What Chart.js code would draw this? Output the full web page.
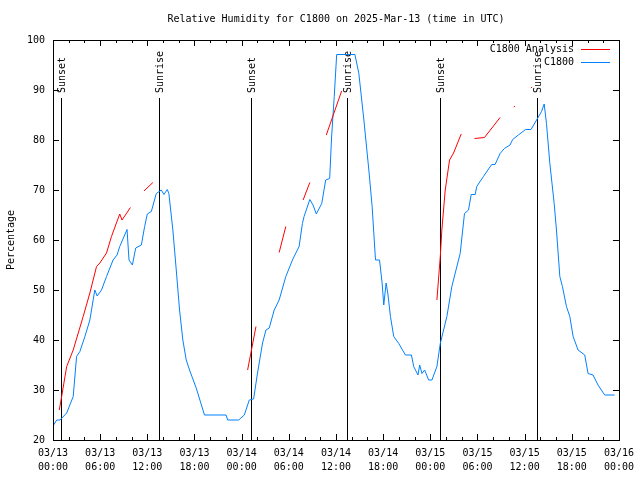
<!DOCTYPE html>
<html><head><meta charset="utf-8">
<script src="https://cdn.jsdelivr.net/npm/chart.js@4.4.1/dist/chart.umd.min.js"></script>
<style>html,body{margin:0;padding:0;background:#fff}#wrap{width:640px;height:480px}</style>
</head><body><div id="wrap"><canvas id="c" width="640" height="480"></canvas></div>
<script>
const titleText = "Relative Humidity for C1800 on 2025-Mar-13 (time in UTC)";
const yAxisLabel = "Percentage";
const seriesNames = ["C1800 Analysis", "C1800"];
const xTickLabels = [
  ["03/13","00:00"],["03/13","06:00"],["03/13","12:00"],["03/13","18:00"],
  ["03/14","00:00"],["03/14","06:00"],["03/14","12:00"],["03/14","18:00"],
  ["03/15","00:00"],["03/15","06:00"],["03/15","12:00"],["03/15","18:00"],
  ["03/16","00:00"]
];
const sunEventHours = [1.05, 13.45, 25.14, 37.43, 49.18, 61.52];
const sunEventLabels = ["Sunset","Sunrise","Sunset","Sunrise","Sunset","Sunrise"];

// hours since 03/13 00:00 UTC
const stationHours = [0,0.47,0.89,1.74,2.57,3.0,3.42,4.06,4.69,5.32,5.62,6.17,6.81,7.64,8.15,8.49,9.42,9.67,10.10,10.52,11.24,11.66,12.0,12.51,13.14,13.78,14.11,14.54,14.74,15.25,15.68,16.10,16.52,16.95,17.37,18.22,19.27,22.02,22.22,23.62,24.34,24.97,25.52,26.02,26.66,27.09,27.51,28.14,28.77,29.62,30.46,31.31,31.73,31.94,32.67,33.08,33.50,34.19,34.69,35.20,35.45,35.78,36.09,37.23,38.41,38.91,39.55,40.18,40.60,41.03,41.54,41.87,42.08,42.38,42.59,42.93,43.35,43.99,44.83,45.60,45.89,46.43,46.65,46.94,47.28,47.79,48.21,48.84,49.27,49.69,50.11,50.74,51.80,52.35,52.86,53.20,53.71,53.91,54.76,55.81,56.24,56.88,57.42,58.14,58.48,59.20,60.12,60.81,61.52,62.15,62.49,62.78,63.21,63.76,64.05,64.48,64.81,65.32,65.75,66.17,66.80,67.65,68.07,68.70,69.34,69.76,70.19,71.45];
const stationValues = [22.8,24.0,24.0,25.4,28.7,36.7,37.7,40.7,44.0,50.0,48.8,50.0,52.7,56.0,57.0,58.7,62.1,56.0,55.0,58.4,59.0,62.7,65.2,65.7,69.3,70.0,69.1,70.1,69.3,62.0,54.0,46.0,40.0,36.0,34.0,30.4,25.0,25.0,24.0,24.0,25.0,28.0,28.2,33.4,39.4,42.0,42.4,46.0,48.0,52.7,56.0,58.7,63.3,64.7,68.1,67.0,65.2,67.3,72.0,72.3,80.8,88.7,97.1,97.1,97.1,93.3,84.0,74.0,66.7,56.0,56.0,51.4,47.0,51.4,49.4,44.7,40.7,39.3,37.0,37.0,34.7,33.0,35.0,33.3,34.0,32.0,32.0,34.7,39.3,42.0,44.7,50.7,57.3,65.3,66.0,69.1,69.1,70.7,72.7,75.1,75.1,77.3,78.3,79.0,80.1,81.0,82.1,82.1,84.0,85.7,87.2,83.3,75.3,67.3,62.0,52.7,50.7,46.7,44.7,40.7,38.0,37.0,33.3,33.0,31.0,30.0,29.0,29.0];

// null = gap in analysis
const analysisHours = [0.80,1.10,1.74,2.57,3.84,4.69,5.54,5.96,6.81,7.44,8.49,8.78,9.85,10.7,11.57,12.71,18.0,24.76,25.82,27.0,28.77,29.62,30.7,31.82,32.67,33.7,34.77,36.72,42.0,48.84,49.27,49.47,49.90,50.45,50.96,51.93,52.8,53.62,54.89,56.88,57.8,58.62,58.78,59.8,60.80,60.96];
const analysisValues = [26.0,28.7,34.7,38.0,44.7,49.4,54.7,55.4,57.4,60.7,65.2,64.0,66.5,null,69.8,71.5,null,34.0,42.7,null,57.5,62.7,null,68.0,71.5,null,81.0,89.8,null,48.0,56.7,62.0,70.0,76.0,77.4,81.2,null,80.3,80.5,84.5,null,86.6,86.8,null,90.4,90.6];

const FONT = '"DejaVu Sans Mono", "Liberation Mono", monospace';
const RED = '#ff0000', BLUE = '#0080ff';

const toPoints = (xs, ys) => xs.map((x, i) => ({x: x, y: ys[i]}));

const decor = {
  id: 'decor',
  beforeDatasetsDraw(chart) {
    const ctx = chart.ctx, xs = chart.scales.x, a = chart.chartArea;
    ctx.save();
    ctx.strokeStyle = '#000'; ctx.lineWidth = 1;
    ctx.fillStyle = '#000';
    ctx.font = '10px ' + FONT;
    sunEventHours.forEach((h, i) => {
      const px = Math.round(xs.getPixelForValue(h)) + 0.5;
      ctx.beginPath(); ctx.moveTo(px, 98); ctx.lineTo(px, a.bottom); ctx.stroke();
      ctx.save();
      ctx.translate(px + 1, 93);
      ctx.rotate(-Math.PI / 2);
      ctx.textAlign = 'left'; ctx.textBaseline = 'middle';
      ctx.fillText(sunEventLabels[i], 0, 0);
      ctx.restore();
    });
    ctx.restore();
  },
  afterDraw(chart) {
    const ctx = chart.ctx, xs = chart.scales.x, ys = chart.scales.y, a = chart.chartArea;
    ctx.save();
    ctx.strokeStyle = '#000'; ctx.lineWidth = 1;
    // box
    ctx.strokeRect(Math.round(a.left) + 0.5, Math.round(a.top) + 0.5, Math.round(a.right - a.left), Math.round(a.bottom - a.top));
    // x ticks (major 6h, minor 2h), mirrored on top
    ctx.beginPath();
    for (let h = xs.min; h <= xs.max; h += 2) {
      const px = Math.round(xs.getPixelForValue(h)) + 0.5;
      const len = (h % 6 === 0) ? 6 : 3;
      ctx.moveTo(px, a.bottom); ctx.lineTo(px, a.bottom - len);
      ctx.moveTo(px, a.top); ctx.lineTo(px, a.top + len);
    }
    // y ticks, mirrored on right
    for (let v = ys.min; v <= ys.max; v += 10) {
      const py = Math.round(ys.getPixelForValue(v)) + 0.5;
      ctx.moveTo(a.left, py); ctx.lineTo(a.left + 6, py);
      ctx.moveTo(a.right, py); ctx.lineTo(a.right - 6, py);
    }
    ctx.stroke();
    // title
    ctx.fillStyle = '#000';
    ctx.font = '10px ' + FONT;
    ctx.textAlign = 'center'; ctx.textBaseline = 'middle';
    ctx.fillText(titleText, (a.left + a.right) / 2, 19);
    // legend
    ctx.textAlign = 'right';
    const colors = [RED, BLUE];
    seriesNames.forEach((n, i) => {
      const y = 49 + i * 13;
      ctx.fillStyle = '#000';
      ctx.fillText(n, 574, y);
      ctx.strokeStyle = colors[i];
      ctx.beginPath(); ctx.moveTo(581, y + 0.5); ctx.lineTo(610, y + 0.5); ctx.stroke();
    });
    ctx.restore();
  }
};

new Chart(document.getElementById('c'), {
  type: 'line',
  data: {
    datasets: [
      { label: seriesNames[0], data: toPoints(analysisHours, analysisValues), borderColor: RED, backgroundColor: RED, borderWidth: 1, pointRadius: 0, tension: 0, spanGaps: false, fill: false },
      { label: seriesNames[1], data: toPoints(stationHours, stationValues), borderColor: BLUE, backgroundColor: BLUE, borderWidth: 1, pointRadius: 0, tension: 0, fill: false }
    ]
  },
  options: {
    responsive: false,
    animation: false,
    devicePixelRatio: 1,
    layout: { padding: { top: 40, right: 19, left: 0, bottom: 0 } },
    plugins: { legend: { display: false }, title: { display: false }, tooltip: { enabled: false } },
    scales: {
      x: {
        type: 'linear', min: 0, max: 72,
        afterFit: s => { s.height = 40; },
        grid: { display: false, drawTicks: false },
        border: { display: false },
        ticks: {
          stepSize: 6, autoSkip: false, maxRotation: 0, padding: 6, color: '#000',
          font: { family: FONT, size: 10, lineHeight: 1.45 },
          callback: v => xTickLabels[Math.round(v / 6)]
        }
      },
      y: {
        min: 20, max: 100,
        afterFit: s => { s.width = 53; },
        grid: { display: false, drawTicks: false },
        border: { display: false },
        ticks: { stepSize: 10, padding: 8, color: '#000', font: { family: FONT, size: 10 } },
        title: { display: true, text: yAxisLabel, color: '#000', padding: { top: 5, bottom: 0 }, font: { family: FONT, size: 10 } }
      }
    }
  },
  plugins: [decor]
});
</script>
</body></html>
